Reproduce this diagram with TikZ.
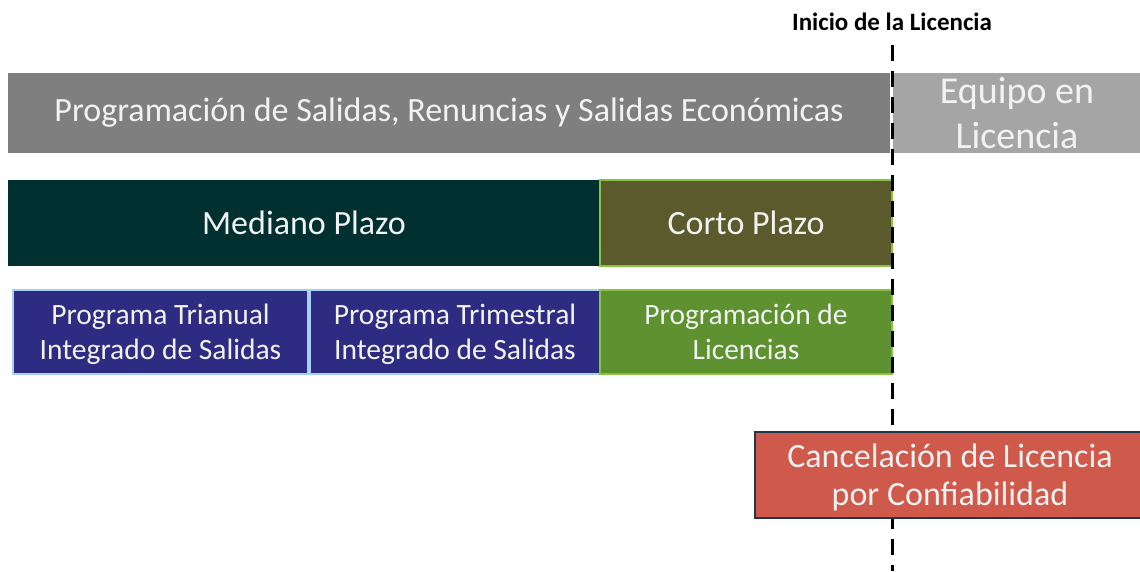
\documentclass[tikz,border=0pt]{standalone}
\usepackage{fontspec}
\setmainfont{Carlito}
\definecolor{barGray}{HTML}{7F7F7F}
\definecolor{lightGray}{HTML}{A5A5A5}
\definecolor{txt}{HTML}{F2F2F2}
\definecolor{darkTeal}{HTML}{00302F}
\definecolor{olive}{HTML}{5A5A2C}
\definecolor{limeEdge}{HTML}{86C440}
\definecolor{navyFill}{HTML}{2E2C82}
\definecolor{skyEdge}{HTML}{A8D0F0}
\definecolor{leafFill}{HTML}{5E9130}
\definecolor{coral}{HTML}{CF5A4B}
\definecolor{navyEdge}{HTML}{1E3848}
\tikzset{
  box/.style={rectangle, anchor=north west, inner sep=0pt, outer sep=0pt, text=txt, align=center},
  bigtext/.style={font=\fontsize{34}{40}\selectfont},
  midtext/.style={font=\fontsize{34}{40}\selectfont},
  eqtext/.style={font=\fontsize{38}{45}\selectfont},
  smalltext/.style={font=\fontsize{29.5}{35}\selectfont, text depth=0pt},
  cuttext/.style={font=\fontsize{34}{38}\selectfont},
  marker/.style={draw=black, line width=3pt, dash pattern=on 16pt off 10pt},
}
\begin{document}
\begin{tikzpicture}[x=1pt,y=-1pt]
\useasboundingbox (0,0) rectangle (1140,571);
\node[box, fill=barGray, minimum width=882pt, minimum height=80pt, bigtext] (prog) at (8,73) {Programación de Salidas, Renuncias y Salidas Económicas};
\node[box, fill=lightGray, minimum width=248pt, minimum height=80pt, eqtext] (equipo) at (893,73) {Equipo en\\Licencia};
\node[box, fill=darkTeal, minimum width=592pt, minimum height=86pt, midtext] (mediano) at (8,180) {Mediano Plazo};
\node[box, fill=olive, draw=limeEdge, line width=2pt, minimum width=292pt, minimum height=86pt, midtext] (corto) at (600,180) {Corto Plazo};
\node[box, fill=navyFill, draw=skyEdge, line width=2pt, minimum width=295pt, minimum height=84pt, smalltext] (trianual) at (13,290) {Programa Trianual\\Integrado de Salidas};
\node[box, fill=navyFill, draw=skyEdge, line width=2pt, minimum width=290pt, minimum height=84pt, smalltext] (trimestral) at (310,290) {Programa Trimestral\\Integrado de Salidas};
\node[box, fill=leafFill, draw=limeEdge, line width=2pt, minimum width=292pt, minimum height=84pt, smalltext] (licencias) at (600,290) {Programación de\\Licencias};
\node[font=\bfseries\fontsize{25}{27}\selectfont, text=black] (inicio) at (892,22) {Inicio de la Licencia};
\coordinate (fin) at (892,571);
\draw[marker] (892,45) -- (fin);
\node[box, fill=coral, draw=navyEdge, line width=2.5pt, minimum width=390pt, minimum height=86pt, cuttext, text depth=0pt] (cancel) at (755,432) {Cancelación de Licencia\\por Confiabilidad};
\end{tikzpicture}
\end{document}
